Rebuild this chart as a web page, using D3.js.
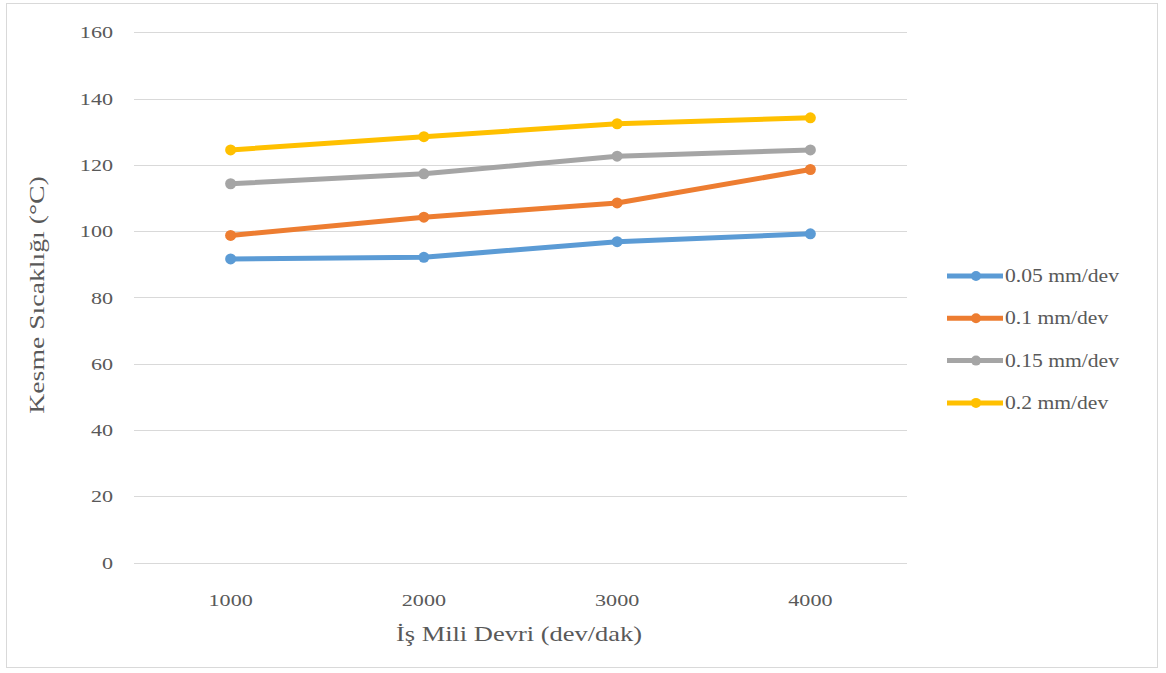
<!DOCTYPE html>
<html><head><meta charset="utf-8">
<script src="https://cdn.jsdelivr.net/npm/d3@7"></script>
<style>
html,body{margin:0;padding:0;background:#fff;}
text{font-family:"Liberation Serif","Times New Roman",serif;fill:#595959;}
</style></head>
<body><svg id="c" width="1166" height="673"></svg>
<script>
const categories = ["1000","2000","3000","4000"];
const seriesNames = ["0.05 mm/dev","0.1 mm/dev","0.15 mm/dev","0.2 mm/dev"];
const s005 = [91.6, 92.1, 96.8, 99.2];
const s01  = [98.7, 104.2, 108.5, 118.6];
const s015 = [114.3, 117.3, 122.6, 124.5];
const s02  = [124.5, 128.5, 132.4, 134.2];
const yTicks = [0,20,40,60,80,100,120,140,160];
const colors = ["#5b9bd5","#ed7d31","#a5a5a5","#ffc000"];
const xTitle = "İş Mili Devri (dev/dak)";
const yTitle = "Kesme Sıcaklığı (°C)";

const series = [s005, s01, s015, s02];
const svg = d3.select("#c");
const stretch = 1.3;

// outer border
svg.append("rect").attr("x",6.5).attr("y",3.5).attr("width",1151).attr("height",664)
  .attr("fill","none").attr("stroke","#d9d9d9").attr("stroke-width",1);

const x = d3.scaleBand().domain(categories).range([134,907]);
const y = d3.scaleLinear().domain([0,160]).range([562.5,32.3]);

// gridlines
svg.append("g").selectAll("line").data(yTicks).join("line")
  .attr("x1",134).attr("x2",907)
  .attr("y1",d=>Math.round(y(d))+0.5).attr("y2",d=>Math.round(y(d))+0.5)
  .attr("stroke","#d9d9d9").attr("stroke-width",1);

function stretchText(sel,k){
  sel.each(function(){
    const w=this.getComputedTextLength();
    d3.select(this).attr("textLength",w*k).attr("lengthAdjust","spacingAndGlyphs");
  });
}

// y axis labels
const yAxis = d3.axisLeft(y).tickValues(yTicks).tickSize(0).tickPadding(0);
const gy = svg.append("g").attr("transform","translate(113,0)").call(yAxis);
gy.select(".domain").remove();
gy.selectAll("text").attr("font-size",17).attr("font-family","Liberation Serif").attr("fill","#595959").attr("dy","0.33em");
stretchText(gy.selectAll("text"),stretch);

// x axis labels
const xAxis = d3.axisBottom(x).tickSize(0).tickPadding(0);
const gx = svg.append("g").attr("transform","translate(0,594)").call(xAxis);
gx.select(".domain").remove();
gx.selectAll("text").attr("font-size",17).attr("font-family","Liberation Serif").attr("fill","#595959").attr("dy","0.71em");
stretchText(gx.selectAll("text"),stretch);

// titles
const xt = svg.append("text").attr("x",519).attr("y",641).attr("text-anchor","middle")
  .attr("font-size",21).text(xTitle);
stretchText(xt,1.26);
const yt = svg.append("text").attr("transform","translate(44,295) rotate(-90)").attr("text-anchor","middle")
  .attr("font-size",21).text(yTitle);
stretchText(yt,1.32);

// lines
const line = d3.line().x((d,i)=>x(categories[i])+x.bandwidth()/2).y(d=>y(d));
series.forEach((s,k)=>{
  const g = svg.append("g");
  g.append("path").datum(s).attr("d",line).attr("fill","none")
    .attr("stroke",colors[k]).attr("stroke-width",5).attr("stroke-linejoin","round").attr("stroke-linecap","round");
  g.selectAll("circle").data(s).join("circle")
    .attr("cx",(d,i)=>x(categories[i])+x.bandwidth()/2).attr("cy",d=>y(d)).attr("r",5.5)
    .attr("fill",colors[k]);
});

// legend
const lg = svg.append("g");
seriesNames.forEach((n,k)=>{
  const ly = 276 + k*42.3;
  lg.append("line").attr("x1",947).attr("x2",1003).attr("y1",ly).attr("y2",ly)
    .attr("stroke",colors[k]).attr("stroke-width",5);
  lg.append("circle").attr("cx",976).attr("cy",ly).attr("r",5).attr("fill",colors[k]);
  const t = lg.append("text").attr("x",1005).attr("y",ly).attr("dy","0.33em").attr("font-size",18).text(n);
  stretchText(t,1.2);
});
</script></body></html>
